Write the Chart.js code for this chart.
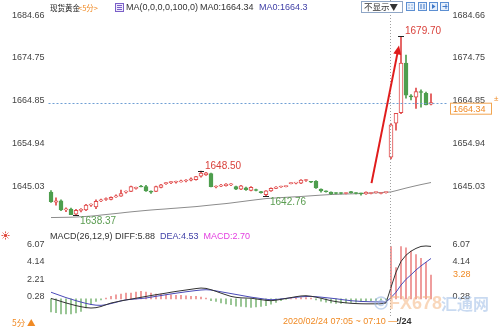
<!DOCTYPE html>
<html>
<head>
<meta charset="utf-8">
<script src="https://cdn.jsdelivr.net/npm/chart.js@4.4.1/dist/chart.umd.min.js"></script>
<style>
body { margin: 0; background: #fff; }
#wrap { position: relative; width: 499px; height: 327px; overflow: hidden; }
#priceBox { position: absolute; left: 0; top: 0; width: 499px; height: 228px; }
#macdBox { position: absolute; left: 0; top: 228px; width: 499px; height: 99px; }
</style>
</head>
<body>
<div id="wrap">
  <div id="priceBox"><canvas id="priceChart"></canvas></div>
  <div id="macdBox"><canvas id="macdChart"></canvas></div>
</div>
<script>
// 5 minute candles, Fri 21 Feb close -> Mon 24 Feb open
var opens = [1643.6, 1641.3, 1641.6, 1639.5, 1639.7, 1638.5, 1639.4, 1639.5, 1640.6, 1640.2,
  1641.6, 1641.9, 1641.9, 1642.5, 1642.7, 1643.6, 1643.8, 1644.5, 1645.0, 1644.9,
  1643.8, 1643.8, 1644.7, 1645.6, 1645.8, 1645.9, 1646.0, 1646.2, 1646.4, 1646.5,
  1647.3, 1647.6, 1647.9, 1644.8, 1645.0, 1645.1, 1645.3, 1644.9, 1644.3, 1644.6,
  1644.0, 1644.2, 1643.7, 1643.0, 1643.9, 1644.5, 1644.8, 1644.9, 1645.6, 1645.7,
  1645.7, 1646.3, 1646.0, 1646.1, 1644.3, 1643.8, 1643.6, 1643.4, 1643.4, 1643.3,
  1643.6, 1643.4, 1643.3, 1643.2, 1643.3, 1643.5, 1643.3, 1643.5, 1651.7, 1659.6,
  1662.0, 1673.5, 1665.9, 1665.6, 1666.9, 1666.5, 1664.0];
var highs = [1644.0, 1642.3, 1641.8, 1640.0, 1639.9, 1639.6, 1639.8, 1640.8, 1640.9, 1641.8,
  1642.0, 1642.3, 1642.5, 1643.0, 1644.1, 1643.9, 1645.0, 1644.8, 1645.2, 1645.2,
  1643.9, 1645.0, 1645.4, 1645.9, 1646.1, 1646.2, 1646.4, 1646.5, 1646.9, 1647.3,
  1648.5, 1648.2, 1648.0, 1645.1, 1645.4, 1645.6, 1645.6, 1645.0, 1645.2, 1644.8,
  1644.9, 1644.3, 1643.8, 1644.0, 1644.6, 1644.9, 1645.0, 1645.1, 1645.8, 1645.9,
  1646.5, 1646.6, 1646.1, 1646.3, 1644.4, 1643.9, 1643.7, 1643.5, 1643.5, 1643.5,
  1643.8, 1643.5, 1643.4, 1643.7, 1643.5, 1643.7, 1643.5, 1643.7, 1659.5, 1661.9,
  1679.7, 1675.4, 1666.2, 1667.7, 1667.3, 1666.8, 1666.4];
var lows = [1641.2, 1640.6, 1639.3, 1639.1, 1638.4, 1638.37, 1639.0, 1639.3, 1640.3, 1639.8,
  1641.4, 1641.7, 1641.8, 1642.4, 1642.6, 1643.4, 1643.7, 1644.3, 1644.8, 1643.8,
  1643.3, 1643.7, 1644.6, 1645.4, 1645.6, 1645.7, 1645.9, 1646.0, 1646.2, 1646.4,
  1647.1, 1647.5, 1644.8, 1644.6, 1644.9, 1645.0, 1645.1, 1644.2, 1644.2, 1644.0,
  1643.9, 1643.9, 1643.4, 1642.76, 1643.8, 1644.4, 1644.7, 1644.8, 1645.5, 1645.5,
  1645.6, 1646.1, 1645.8, 1644.5, 1643.6, 1643.6, 1643.1, 1643.2, 1643.2, 1643.2,
  1643.4, 1643.2, 1642.9, 1643.1, 1643.2, 1643.4, 1643.2, 1643.4, 1651.3, 1658.0,
  1661.8, 1665.4, 1665.0, 1663.0, 1663.3, 1663.8, 1663.8];
var closes = [1641.4, 1641.6, 1639.5, 1639.7, 1638.4, 1639.4, 1639.5, 1640.6, 1640.7, 1641.5,
  1641.7, 1642.1, 1642.4, 1642.6, 1643.3, 1643.7, 1644.9, 1644.6, 1644.8, 1643.9,
  1643.6, 1644.9, 1645.3, 1645.7, 1645.9, 1646.0, 1646.2, 1646.3, 1646.7, 1647.2,
  1648.0, 1648.1, 1644.9, 1644.9, 1645.1, 1645.5, 1645.4, 1644.3, 1645.1, 1644.2,
  1644.7, 1644.0, 1643.5, 1643.9, 1644.5, 1644.8, 1644.9, 1645.0, 1645.7, 1645.8,
  1646.4, 1646.4, 1645.9, 1644.6, 1643.9, 1643.7, 1643.2, 1643.3, 1643.3, 1643.4,
  1643.5, 1643.3, 1643.2, 1643.6, 1643.4, 1643.6, 1643.4, 1643.6, 1659.2, 1661.9,
  1673.5, 1666.1, 1665.7, 1666.9, 1666.7, 1663.8, 1664.34];
var ma100 = [1637.72, 1637.74, 1637.76, 1637.78, 1637.80, 1637.84, 1637.90, 1637.98, 1638.06, 1638.16,
  1638.30, 1638.42, 1638.54, 1638.66, 1638.78, 1638.92, 1639.04, 1639.15, 1639.26, 1639.37,
  1639.47, 1639.56, 1639.64, 1639.72, 1639.82, 1639.90, 1639.99, 1640.08, 1640.17, 1640.26,
  1640.38, 1640.50, 1640.62, 1640.74, 1640.85, 1640.96, 1641.10, 1641.25, 1641.40, 1641.55,
  1641.70, 1641.84, 1641.98, 1642.12, 1642.20, 1642.27, 1642.34, 1642.41, 1642.48, 1642.54,
  1642.60, 1642.68, 1642.76, 1642.84, 1642.92, 1642.99, 1643.06, 1643.10, 1643.14, 1643.18,
  1643.21, 1643.24, 1643.29, 1643.34, 1643.40, 1643.46, 1643.52, 1643.58, 1643.66, 1643.95,
  1644.25, 1644.55, 1644.83, 1645.10, 1645.36, 1645.60, 1645.84];

// MACD(26,12,9)
var diffLine = [0.05, -0.1, -0.28, -0.45, -0.6, -0.75, -0.87, -0.97, -1.02, -0.98,
  -0.85, -0.65, -0.46, -0.34, -0.22, -0.12, -0.02, 0.08, 0.18, 0.28,
  0.38, 0.47, 0.56, 0.65, 0.75, 0.84, 0.92, 1.0, 1.08, 1.16,
  1.22, 1.18, 1.03, 0.85, 0.65, 0.46, 0.28, 0.18, 0.12, 0.1,
  0.08, 0.0, -0.08, -0.16, -0.2, -0.14, -0.05, 0.05, 0.15, 0.25,
  0.33, 0.36, 0.3, 0.2, 0.08, -0.06, -0.2, -0.3, -0.38, -0.44,
  -0.49, -0.52, -0.54, -0.55, -0.55, -0.55, -0.54, -0.45, 1.3, 3.0,
  4.2, 4.9, 5.35, 5.66, 5.88, 5.93, 5.88];
var deaLine = [0.75, 0.55, 0.35, 0.15, -0.02, -0.2, -0.35, -0.5, -0.62, -0.7,
  -0.72, -0.65, -0.52, -0.38, -0.22, -0.1, -0.05, 0.0, 0.05, 0.1,
  0.2, 0.29, 0.38, 0.47, 0.56, 0.64, 0.72, 0.8, 0.87, 0.94,
  1.0, 1.03, 1.0, 0.9, 0.8, 0.7, 0.6, 0.5, 0.4, 0.3,
  0.2, 0.12, 0.04, -0.04, -0.09, -0.06, 0.0, 0.06, 0.12, 0.18,
  0.24, 0.27, 0.28, 0.25, 0.2, 0.14, 0.08, 0.02, -0.06, -0.13,
  -0.2, -0.24, -0.28, -0.3, -0.32, -0.33, -0.34, -0.35, 0.15, 0.75,
  1.55, 2.2, 2.7, 3.24, 3.7, 4.12, 4.53];
var macdBars = [-1.45, -1.55, -1.69, -1.69, -1.69, -1.58, -1.4, -1.02, -0.65, -0.28,
  -0.1, 0.1, 0.28, 0.47, 0.55, 0.66, 0.66, 0.77, 0.84, 0.77,
  0.66, 0.55, 0.55, 0.47, 0.47, 0.4, 0.4, 0.36, 0.28, 0.28,
  0.21, 0.1, -0.2, -0.28, -0.46, -0.57, -0.65, -0.8, -0.85, -0.9,
  -0.95, -0.9, -0.85, -0.75, -0.6, -0.4, -0.2, -0.05, 0.05, 0.1,
  0.15, 0.15, 0.1, -0.1, -0.25, -0.35, -0.45, -0.5, -0.5, -0.45,
  -0.4, -0.35, -0.3, -0.25, -0.2, -0.18, -0.15, -0.1, 5.85, 3.5,
  5.85, 5.73, 5.36, 4.98, 4.54, 4.09, 2.68];

var priceTicks = [1645.03, 1654.94, 1664.85, 1674.75, 1684.66];
var macdTicks = [0.28, 2.21, 4.14, 6.07];
var lastPrice = 1664.34;
var cursorMacd = 3.28;
var cursorIndex = 68;
var highMarks = [30, 70];
var lowMarks = [5, 43];
var arrowFrom = [64.1, 1645.7];
var arrowTo = [69.6, 1677.6];

var slots = 80; // 77 candles + empty room on the right
var labels = [];
for (var i = 0; i < slots; i++) labels.push(i);

var red = '#e04848';
var green = '#4e9e4e';
var orange = '#f08a24';
Chart.defaults.font.family = '"Liberation Sans", Arial, sans-serif';
Chart.defaults.font.size = 9;
Chart.defaults.color = '#444';

var up = closes.map(function (c, i) { return c >= opens[i]; });

function sideAxis(pos, min, max, ticks) {
    return {
        position: pos,
        min: min,
        max: max,
        grid: { display: false, drawTicks: false },
        border: { display: false },
        ticks: { padding: 4, color: '#444', font: { size: 9 }, callback: function (v) { return v.toFixed(2); } },
        afterBuildTicks: function (s) { s.ticks = ticks.map(function (v) { return { value: v }; }); },
        afterFit: function (s) {
            s.width = pos === 'left' ? 48.5 : 50.5;
            s.paddingTop = 0;
            s.paddingBottom = 0;
        }
    };
}

function cursorLine(chart, x, y0, y1) {
    var ctx = chart.ctx;
    ctx.save();
    ctx.strokeStyle = '#a0a0a0';
    ctx.lineWidth = 1;
    ctx.setLineDash([1, 2]);
    ctx.beginPath();
    ctx.moveTo(x, y0);
    ctx.lineTo(x, y1);
    ctx.stroke();
    ctx.restore();
}

var pricePlugin = {
    id: 'priceMarks',
    afterDatasetsDraw: function (chart) {
        var ctx = chart.ctx, xs = chart.scales.x, ys = chart.scales.y, area = chart.chartArea;
        ctx.save();
        // last price dotted line
        var yl = Math.round(ys.getPixelForValue(lastPrice)) + 0.5;
        ctx.strokeStyle = '#6f9fd4';
        ctx.lineWidth = 1;
        ctx.setLineDash([2, 2]);
        ctx.beginPath();
        ctx.moveTo(area.left, yl);
        ctx.lineTo(area.right, yl);
        ctx.stroke();
        ctx.setLineDash([]);

        cursorLine(chart, Math.floor(xs.getPixelForValue(cursorIndex)) - 0.5, 0, chart.height);

        // arrow
        var x0 = xs.getPixelForValue(arrowFrom[0]), y0 = ys.getPixelForValue(arrowFrom[1]);
        var x1 = xs.getPixelForValue(arrowTo[0]), y1 = ys.getPixelForValue(arrowTo[1]);
        var a = Math.atan2(y1 - y0, x1 - x0);
        ctx.strokeStyle = '#e01c1c';
        ctx.fillStyle = '#e01c1c';
        ctx.lineWidth = 2;
        ctx.beginPath();
        ctx.moveTo(x0, y0);
        ctx.lineTo(x1 - 6 * Math.cos(a), y1 - 6 * Math.sin(a));
        ctx.stroke();
        ctx.beginPath();
        ctx.moveTo(x1, y1);
        ctx.lineTo(x1 - 9 * Math.cos(a) + 4 * Math.sin(a), y1 - 9 * Math.sin(a) - 4 * Math.cos(a));
        ctx.lineTo(x1 - 9 * Math.cos(a) - 4 * Math.sin(a), y1 - 9 * Math.sin(a) + 4 * Math.cos(a));
        ctx.closePath();
        ctx.fill();

        // high / low marks
        ctx.font = '10px "Liberation Sans", Arial, sans-serif';
        ctx.textBaseline = 'middle';
        ctx.textAlign = 'left';
        ctx.lineWidth = 1;
        highMarks.forEach(function (i) {
            var x = Math.round(xs.getPixelForValue(i)), y = Math.round(ys.getPixelForValue(highs[i])) + 0.5;
            ctx.strokeStyle = '#222';
            ctx.beginPath(); ctx.moveTo(x - 3, y); ctx.lineTo(x + 3, y); ctx.stroke();
            ctx.fillStyle = '#d9413b';
            ctx.fillText(highs[i].toFixed(2), x + 4, y - 5);
        });
        lowMarks.forEach(function (i) {
            var x = Math.round(xs.getPixelForValue(i)), y = Math.round(ys.getPixelForValue(lows[i])) + 0.5;
            ctx.strokeStyle = '#222';
            ctx.beginPath(); ctx.moveTo(x - 3, y); ctx.lineTo(x + 3, y); ctx.stroke();
            ctx.fillStyle = '#5a9c50';
            ctx.fillText(lows[i].toFixed(2), x + 4, y + 6);
        });
        ctx.restore();
    },
    afterDraw: function (chart) {
        var ctx = chart.ctx, ys = chart.scales.y;
        ctx.save();
        ctx.textBaseline = 'middle';
        ctx.textAlign = 'left';
        // title row
        ctx.font = '7.5px "Noto Sans CJK SC", sans-serif';
        ctx.fillStyle = '#222';
        ctx.fillText('现货黄金', 50, 8);
        ctx.fillStyle = orange;
        ctx.fillText('<5分>', 78, 8);
        ctx.strokeStyle = '#7a5fc8';
        ctx.fillStyle = '#efeafb';
        ctx.fillRect(115.5, 3.5, 8, 8);
        ctx.strokeRect(115.5, 3.5, 8, 8);
        ctx.beginPath();
        ctx.moveTo(117, 5.5); ctx.lineTo(122, 5.5);
        ctx.moveTo(117, 7.5); ctx.lineTo(122, 7.5);
        ctx.moveTo(117, 9.5); ctx.lineTo(122, 9.5);
        ctx.stroke();
        ctx.font = '9px "Liberation Sans", Arial, sans-serif';
        ctx.fillStyle = '#333';
        ctx.fillText('MA(0,0,0,0,100,0)', 126, 8);
        ctx.fillText('MA0:' + lastPrice.toFixed(2), 200, 8);
        ctx.fillStyle = '#3e3ea6';
        ctx.fillText('MA0:1664.3', 259, 8);

        // display button and tool icons
        ctx.strokeStyle = '#8fa6c6';
        ctx.fillStyle = '#fff';
        ctx.fillRect(361.5, 1.5, 41, 11);
        ctx.strokeRect(361.5, 1.5, 41, 11);
        ctx.fillStyle = '#333';
        ctx.font = '8.5px "Noto Sans CJK SC", sans-serif';
        ctx.fillText('不显示▼', 364, 7);
        [406.5, 418.5, 429.5, 440.5].forEach(function (x, k) {
            ctx.fillStyle = '#e6effb';
            ctx.strokeStyle = '#5c8fd2';
            ctx.fillRect(x, 2.5, 8, 8);
            ctx.strokeRect(x, 2.5, 8, 8);
            ctx.fillStyle = '#3f78c8';
            if (k === 0) { ctx.fillRect(x + 2, 4.5, 1, 1); ctx.fillRect(x + 5, 4.5, 1, 1); ctx.fillRect(x + 2, 7.5, 1, 1); ctx.fillRect(x + 5, 7.5, 1, 1); }
            if (k === 1) { ctx.fillRect(x + 2, 4, 1, 5); ctx.fillRect(x + 5, 4, 1, 5); }
            if (k === 2) { ctx.beginPath(); ctx.moveTo(x + 2.5, 4); ctx.lineTo(x + 6, 6.5); ctx.lineTo(x + 2.5, 9); ctx.fill(); }
            if (k === 3) { ctx.fillRect(x + 2, 6, 5, 1); ctx.fillRect(x + 5, 4, 1, 5); }
        });

        // last price tag
        var yl = ys.getPixelForValue(lastPrice);
        ctx.fillStyle = '#fff';
        ctx.strokeStyle = '#f2a550';
        ctx.fillRect(450.5, yl + 0.5, 41, 11);
        ctx.strokeRect(450.5, yl + 0.5, 41, 11);
        ctx.fillStyle = orange;
        ctx.font = '9px "Liberation Sans", Arial, sans-serif';
        ctx.fillText(lastPrice.toFixed(2), 453, yl + 6.5);
        ctx.font = '8px "Liberation Sans", Arial, sans-serif';
        ctx.fillText('±', 494, yl - 4);
        ctx.restore();
    }
};

new Chart(document.getElementById('priceChart'), {
    type: 'bar',
    data: {
        labels: labels,
        datasets: [{
            type: 'line',
            data: ma100,
            borderColor: '#8c8c8c',
            borderWidth: 1,
            pointRadius: 0,
            order: 4
        }, {
            data: lows.map(function (l, i) { return [l, highs[i]]; }),
            backgroundColor: up.map(function (u) { return u ? red : green; }),
            barThickness: 1,
            grouped: false,
            order: 3
        }, {
            data: opens.map(function (o, i) { return [o, closes[i]]; }),
            backgroundColor: up.map(function (u) { return u ? '#ffffff' : green; }),
            borderColor: up.map(function (u) { return u ? red : green; }),
            borderWidth: 1,
            borderSkipped: false,
            barThickness: 4,
            minBarLength: 1,
            grouped: false,
            order: 2
        }]
    },
    options: {
        responsive: true,
        maintainAspectRatio: false,
        animation: false,
        layout: { padding: 0, autoPadding: false },
        plugins: { legend: { display: false }, tooltip: { enabled: false } },
        scales: {
            x: { display: false, offset: true },
            y: sideAxis('left', 1635.30, 1688.14, priceTicks),
            y2: sideAxis('right', 1635.30, 1688.14, priceTicks)
        }
    },
    plugins: [pricePlugin]
});

var macdPlugin = {
    id: 'macdMarks',
    afterDraw: function (chart) {
        var ctx = chart.ctx, xs = chart.scales.x, ys = chart.scales.y;
        cursorLine(chart, Math.floor(xs.getPixelForValue(cursorIndex)) - 0.5, 0, 92);
        ctx.save();
        ctx.textBaseline = 'middle';
        ctx.textAlign = 'left';
        // header
        ctx.font = '9px "Liberation Sans", Arial, sans-serif';
        var hx = 50;
        var lastDiff = diffLine[diffLine.length - 1], lastDea = deaLine[deaLine.length - 1];
        var parts = [
            ['MACD(26,12,9) DIFF:' + lastDiff.toFixed(2) + '  ', '#333'],
            ['DEA:' + lastDea.toFixed(2) + '  ', '#3e3ea6'],
            ['MACD:' + (2 * (lastDiff - lastDea)).toFixed(2), '#e33fe0']
        ];
        parts.forEach(function (p) {
            ctx.fillStyle = p[1];
            ctx.fillText(p[0], hx, 9);
            hx += ctx.measureText(p[0]).width;
        });
        // small red settings sun
        ctx.strokeStyle = '#e0483c';
        ctx.fillStyle = '#e0483c';
        ctx.lineWidth = 1;
        ctx.beginPath(); ctx.arc(5.5, 7.5, 1.8, 0, Math.PI * 2); ctx.fill();
        for (var k = 0; k < 8; k++) {
            var ang = k * Math.PI / 4;
            ctx.beginPath();
            ctx.moveTo(5.5 + 2.6 * Math.cos(ang), 7.5 + 2.6 * Math.sin(ang));
            ctx.lineTo(5.5 + 4 * Math.cos(ang), 7.5 + 4 * Math.sin(ang));
            ctx.stroke();
        }
        // orange macd tag on right axis
        var yc = ys.getPixelForValue(cursorMacd - 0.6);
        ctx.fillStyle = '#fff';
        ctx.fillRect(451, yc - 6, 30, 13);
        ctx.fillStyle = orange;
        ctx.fillText(cursorMacd.toFixed(2), 453, yc);

        // watermark
        ctx.globalAlpha = 0.55;
        ctx.strokeStyle = '#8fb0e0';
        ctx.lineWidth = 1.5;
        ctx.beginPath(); ctx.arc(381, 75, 6, 0, Math.PI * 2); ctx.stroke();
        ctx.beginPath(); ctx.arc(381, 75, 2.5, 0, Math.PI * 2); ctx.stroke();
        ctx.font = 'bold 18px "Liberation Sans", Arial, sans-serif';
        ctx.fillStyle = '#f4b784';
        ctx.fillText('FX678', 389, 76);
        ctx.font = 'bold 16px "Noto Sans CJK SC", sans-serif';
        ctx.fillStyle = '#9dbbe6';
        ctx.fillText('汇通网', 441, 76);
        ctx.globalAlpha = 1;

        // bottom row
        ctx.font = 'bold 9px "Liberation Sans", Arial, sans-serif';
        ctx.fillStyle = '#333';
        ctx.fillText('02/24', 389, 94);
        ctx.fillStyle = '#fff';
        ctx.fillRect(280, 88, 117, 11);
        ctx.font = '9px "Liberation Sans", Arial, sans-serif';
        ctx.fillStyle = orange;
        ctx.fillText('2020/02/24 07:05 ~ 07:10 \u2014', 283, 94);
        ctx.font = '8.5px "Noto Sans CJK SC", sans-serif';
        ctx.fillText('5分 ▲', 12, 95);
        ctx.restore();
    }
};

new Chart(document.getElementById('macdChart'), {
    type: 'bar',
    data: {
        labels: labels,
        datasets: [{
            type: 'line',
            data: diffLine,
            borderColor: '#333',
            borderWidth: 1,
            pointRadius: 0,
            order: 1
        }, {
            type: 'line',
            data: deaLine,
            borderColor: '#4a4ab8',
            borderWidth: 1,
            pointRadius: 0,
            order: 2
        }, {
            data: macdBars,
            backgroundColor: macdBars.map(function (v) { return v >= 0 ? '#ec8a8a' : '#86bb80'; }),
            barThickness: 1,
            order: 3
        }]
    },
    options: {
        responsive: true,
        maintainAspectRatio: false,
        animation: false,
        layout: { padding: { top: 12, bottom: 12, left: 0, right: 0 }, autoPadding: false },
        plugins: { legend: { display: false }, tooltip: { enabled: false } },
        scales: {
            x: { display: false, offset: true },
            y: sideAxis('left', -1.8, 6.6, macdTicks),
            y2: sideAxis('right', -1.8, 6.6, macdTicks)
        }
    },
    plugins: [macdPlugin]
});
</script>
</body>
</html>
